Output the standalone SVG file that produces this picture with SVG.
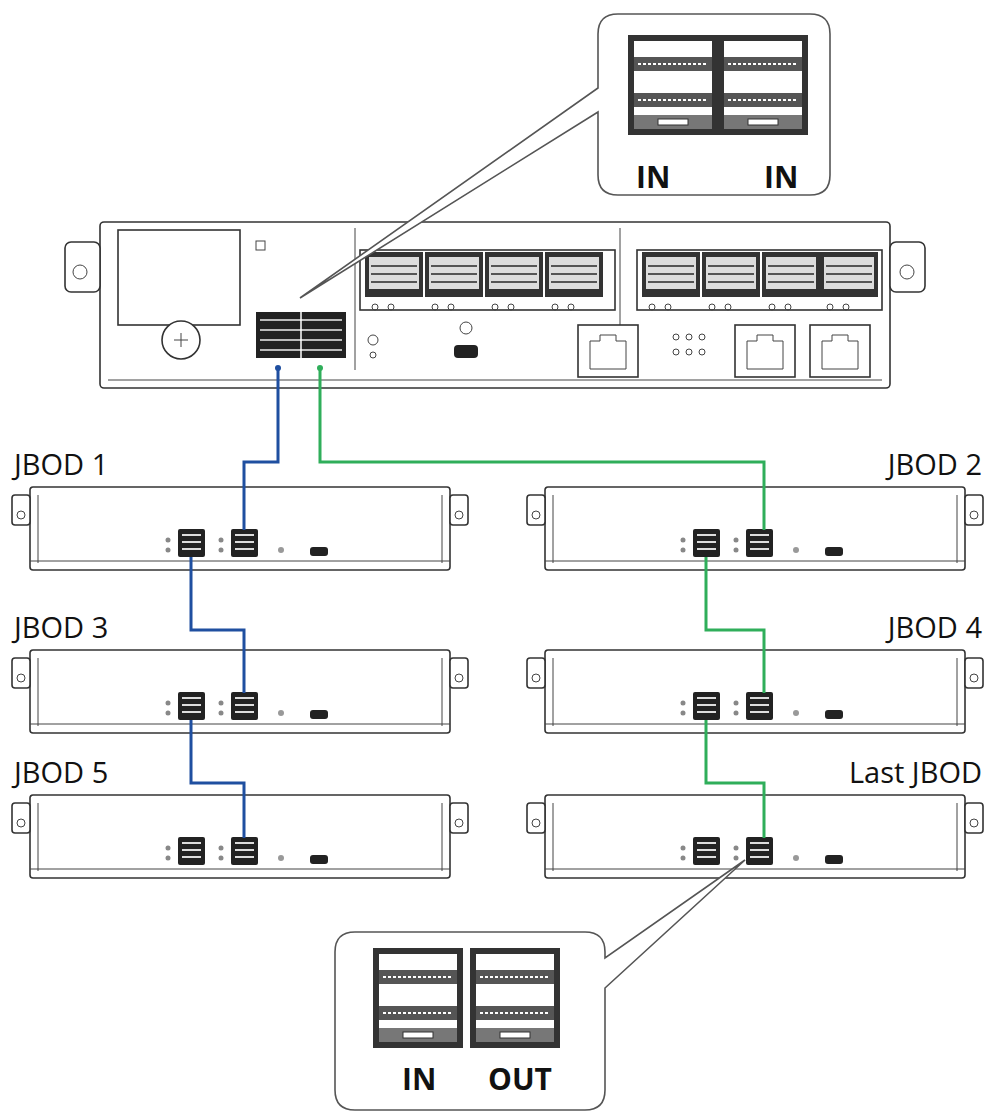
<svg xmlns="http://www.w3.org/2000/svg" width="990" height="1114" viewBox="0 0 990 1114">
<style>
.ln{fill:#fff;stroke:#333;stroke-width:1.6}
.thin{fill:none;stroke:#444;stroke-width:1}
.dk{fill:#222}
.lbl{font-family:"Open Sans","Liberation Sans",sans-serif;font-size:29px;fill:#111}
.b{font-family:"Open Sans","Liberation Sans",sans-serif;font-size:30px;font-weight:bold;fill:#111}
.blue{fill:none;stroke:#1f4fa0;stroke-width:3}
.green{fill:none;stroke:#2fae5a;stroke-width:3}
</style>
<defs>
<g id="jbod">
<rect class="ln" x="20" y="0" width="420" height="83" rx="3"/>
<path class="thin" d="M20 74 H440 M28 8 V76 M432 8 V76"/>
<rect class="ln" x="2" y="8" width="18" height="30" rx="3"/>
<circle class="thin" cx="11" cy="28" r="4"/>
<rect class="ln" x="440" y="8" width="18" height="30" rx="3"/>
<circle class="thin" cx="449" cy="28" r="4"/>
<circle cx="158" cy="53" r="2.5" fill="#888"/><circle cx="158" cy="63" r="2.5" fill="#888"/>
<rect class="dk" x="168" y="42" width="27" height="28" rx="2"/>
<path d="M172 48 H191 M172 55 H191 M172 62 H191" stroke="#ddd" stroke-width="2"/>
<circle cx="211" cy="53" r="2.5" fill="#888"/><circle cx="211" cy="63" r="2.5" fill="#888"/>
<rect class="dk" x="221" y="42" width="27" height="28" rx="2"/>
<path d="M225 48 H244 M225 55 H244 M225 62 H244" stroke="#ddd" stroke-width="2"/>
<circle cx="271" cy="63" r="3" fill="#999"/>
<rect class="dk" x="300" y="60" width="18" height="9" rx="3"/>
</g>
<g id="bigport">
<rect x="0" y="0" width="90" height="100" fill="#333"/>
<rect x="6" y="6" width="78" height="88" fill="#fff"/>
<rect x="6" y="22" width="78" height="14" fill="#555"/>
<path d="M10 29 H80" stroke="#fff" stroke-width="2" stroke-dasharray="3 2"/>
<rect x="6" y="58" width="78" height="14" fill="#555"/>
<path d="M10 65 H80" stroke="#fff" stroke-width="2" stroke-dasharray="3 2"/>
<rect x="6" y="80" width="78" height="14" fill="#777"/>
<rect x="30" y="84" width="30" height="6" fill="#fff" stroke="#333"/>
</g>
<g id="sfp">
<rect x="0" y="0" width="58" height="45" fill="#333"/>
<rect x="4" y="5" width="50" height="32" fill="#ddd"/>
<path d="M6 14 H52 M6 22 H52 M6 30 H52" stroke="#555" stroke-width="2"/>
<circle cx="10" cy="55" r="3" class="thin"/><circle cx="26" cy="55" r="3" class="thin"/>
</g>
<g id="rj"><rect class="ln" x="0" y="0" width="60" height="52"/><path class="thin" d="M12 44 V16 H22 V10 H38 V16 H48 V44 Z"/></g>
</defs>

<g id="controller">
<rect class="ln" x="100" y="222" width="790" height="166" rx="4"/>
<path class="thin" d="M108 380 H882 M355 228 V370 M620 228 V370"/>
<rect class="ln" x="65" y="242" width="35" height="50" rx="6"/>
<circle class="thin" cx="80" cy="272" r="7"/>
<rect class="ln" x="890" y="242" width="35" height="50" rx="6"/>
<circle class="thin" cx="907" cy="272" r="7"/>
<rect class="ln" x="118" y="230" width="122" height="95"/>
<circle class="ln" cx="181" cy="340" r="19"/>
<path class="thin" d="M174 340 H188 M181 333 V347"/>
<rect class="thin" x="256" y="241" width="9" height="9"/>
<rect class="ln" x="360" y="250" width="255" height="60"/>
<rect class="ln" x="637" y="250" width="245" height="60"/>
<use href="#sfp" x="365" y="252"/><use href="#sfp" x="425" y="252"/><use href="#sfp" x="485" y="252"/><use href="#sfp" x="545" y="252"/>
<use href="#sfp" x="642" y="252"/><use href="#sfp" x="702" y="252"/><use href="#sfp" x="762" y="252"/><use href="#sfp" x="820" y="252"/>
<rect class="dk" x="256" y="312" width="90" height="46"/>
<path d="M260 320 H342 M260 330 H342 M260 340 H342 M260 350 H342" stroke="#bbb" stroke-width="2"/>
<path d="M301 312 V358" stroke="#fff" stroke-width="1.5"/>
<circle class="thin" cx="373" cy="340" r="5"/><circle class="thin" cx="373" cy="355" r="3"/>
<circle class="thin" cx="466" cy="328" r="6"/>
<rect class="dk" x="454" y="345" width="24" height="13" rx="4"/>
<use href="#rj" x="578" y="325"/>
<use href="#rj" x="735" y="325"/>
<use href="#rj" x="810" y="325"/>
<g class="thin"><circle cx="676" cy="337" r="3"/><circle cx="689" cy="337" r="3"/><circle cx="702" cy="337" r="3"/><circle cx="676" cy="352" r="3"/><circle cx="689" cy="352" r="3"/><circle cx="702" cy="352" r="3"/></g>
</g>

<g id="callout-top">
<path d="M618 14 H810 Q830 14 830 34 V175 Q830 195 810 195 H618 Q598 195 598 175 V112 L300 298 L598 88 V34 Q598 14 618 14 Z" fill="#fff" stroke="#555" stroke-width="1.6"/>
<use href="#bigport" x="628" y="35"/>
<use href="#bigport" x="718" y="35"/>
<text class="b" x="636" y="188">IN</text>
<text class="b" x="764" y="188">IN</text>
</g>

<g id="jbod1"><use href="#jbod" x="10" y="487"/><text class="lbl" x="14" y="475">JBOD 1</text></g>
<g id="jbod3"><use href="#jbod" x="10" y="650"/><text class="lbl" x="14" y="638">JBOD 3</text></g>
<g id="jbod5"><use href="#jbod" x="10" y="795"/><text class="lbl" x="14" y="783">JBOD 5</text></g>
<g id="jbod2"><use href="#jbod" x="525" y="487"/><text class="lbl" x="982" y="475" text-anchor="end">JBOD 2</text></g>
<g id="jbod4"><use href="#jbod" x="525" y="650"/><text class="lbl" x="982" y="638" text-anchor="end">JBOD 4</text></g>
<g id="jbodlast"><use href="#jbod" x="525" y="795"/><text class="lbl" x="982" y="783" text-anchor="end">Last JBOD</text></g>

<g id="callout-bottom">
<path d="M355 932 H585 Q605 932 605 952 V958 L745 860 L605 988 V1090 Q605 1110 585 1110 H355 Q335 1110 335 1090 V952 Q335 932 355 932 Z" fill="#fff" stroke="#555" stroke-width="1.6"/>
<use href="#bigport" x="373" y="948"/>
<use href="#bigport" x="470" y="948"/>
<text class="b" x="402" y="1090">IN</text>
<text class="b" x="488" y="1090">OUT</text>
</g>

<g id="connectors">
<path class="blue" d="M278 368 V462 H244 V530"/>
<path class="green" d="M320 368 V462 H764 V530"/>
<path class="blue" d="M191 557 V630 H244 V693"/>
<path class="blue" d="M191 720 V783 H244 V838"/>
<path class="green" d="M706 557 V630 H764 V693"/>
<path class="green" d="M706 720 V783 H764 V838"/>
<circle cx="278" cy="368" r="3" fill="#1f4fa0"/>
<circle cx="320" cy="368" r="3" fill="#2fae5a"/>
</g>
</svg>
